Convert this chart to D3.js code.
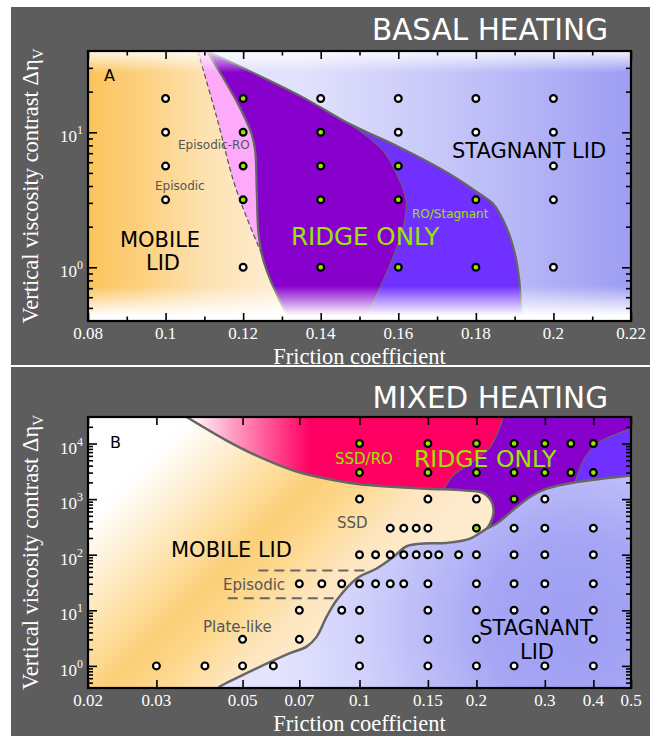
<!DOCTYPE html>
<html>
<head>
<meta charset="utf-8">
<title>Regime diagrams</title>
<script src="https://cdn.jsdelivr.net/npm/d3@7/dist/d3.min.js"></script>
<style>
  html, body { margin: 0; padding: 0; background: #fff; }
  svg { display: block; }
</style>
</head>
<body>
<svg id="fig" width="654" height="736"></svg>
<script>
// ---------------- Panel A: basal heating ----------------
const basalFrictionTicks  = [0.08, 0.10, 0.12, 0.14, 0.16, 0.18, 0.20, 0.22];
const basalFrictionLabels = ["0.08", "0.1", "0.12", "0.14", "0.16", "0.18", "0.2", "0.22"];
const basalFrictionMinor  = [0.09, 0.11, 0.13, 0.15, 0.17, 0.19, 0.21];
const basalEtaTicks       = [1, 10];
const basalEtaExponents   = ["0", "1"];

// runs that show ridge-only behaviour (green) and all other runs (white)
const basalRidgeRuns = [
  [0.12, 17.8],
  [0.12, 10], [0.14, 10],
  [0.12, 5.62], [0.14, 5.62], [0.16, 5.62],
  [0.12, 3.16], [0.14, 3.16], [0.16, 3.16], [0.18, 3.16],
  [0.14, 1], [0.16, 1], [0.18, 1]
];
const basalOtherRuns = [
  [0.10, 17.8], [0.14, 17.8], [0.16, 17.8], [0.18, 17.8], [0.20, 17.8],
  [0.10, 10], [0.16, 10], [0.18, 10], [0.20, 10],
  [0.10, 5.62], [0.20, 5.62],
  [0.10, 3.16], [0.20, 3.16],
  [0.12, 1], [0.20, 1]
];

// regime boundaries as [friction, viscosity contrast]
const basalEpisodicEdge = [[0.1083, 40], [0.1132, 12.9], [0.1175, 4.37], [0.1209, 2.34], [0.1248, 1.25]];
const basalRidgeEdge = [[0.1106, 40], [0.1158, 22.8], [0.1196, 14.4], [0.1222, 9.7], [0.1231, 7.3],
  [0.1235, 3.69], [0.1239, 1.86], [0.1248, 1.25], [0.1261, 0.94], [0.1287, 0.63], [0.1321, 0.425], [0.1355, 0.4]];
const basalStagnantEdge = [[0.1106, 40], [0.1347, 18.6], [0.1475, 11.5], [0.1604, 7.72], [0.1733, 4.9],
  [0.1811, 3.48], [0.1845, 2.94], [0.1879, 1.97], [0.1901, 1.25], [0.1912, 0.8], [0.1918, 0.42], [0.1920, 0.4]];
const basalROEdge = [[0.1500, 0.4], [0.1514, 0.425], [0.1561, 0.80], [0.1596, 1.40], [0.1613, 1.97],
  [0.1620, 3.1], [0.1604, 4.37], [0.1561, 7.3], [0.1475, 11.5]];

// ---------------- Panel B: mixed heating ----------------
const mixedFrictionTicks  = [0.02, 0.03, 0.05, 0.07, 0.1, 0.15, 0.2, 0.3, 0.4, 0.5];
const mixedFrictionLabels = ["0.02", "0.03", "0.05", "0.07", "0.1", "0.15", "0.2", "0.3", "0.4", "0.5"];
const mixedEtaTicks       = [1, 10, 100, 1000, 10000];
const mixedEtaExponents   = ["0", "1", "2", "3", "4"];

const mixedRidgeRuns = [
  [0.1, 1e4], [0.15, 1e4], [0.2, 1e4], [0.25, 1e4], [0.3, 1e4], [0.35, 1e4], [0.4, 1e4],
  [0.1, 3e3], [0.15, 3e3], [0.2, 3e3], [0.25, 3e3], [0.3, 3e3], [0.35, 3e3], [0.4, 3e3],
  [0.25, 1e3], [0.2, 300]
];
const mixedOtherRuns = [
  [0.1, 1e3], [0.15, 1e3], [0.2, 1e3], [0.3, 1e3],
  [0.12, 300], [0.13, 300], [0.14, 300], [0.15, 300], [0.25, 300], [0.3, 300], [0.4, 300],
  [0.1, 100], [0.11, 100], [0.12, 100], [0.13, 100], [0.14, 100], [0.15, 100], [0.16, 100],
  [0.18, 100], [0.2, 100], [0.25, 100], [0.3, 100], [0.4, 100],
  [0.07, 30], [0.08, 30], [0.09, 30], [0.1, 30], [0.11, 30], [0.12, 30], [0.13, 30],
  [0.15, 30], [0.2, 30], [0.25, 30], [0.3, 30], [0.4, 30],
  [0.07, 10], [0.09, 10], [0.1, 10], [0.15, 10], [0.2, 10], [0.25, 10], [0.3, 10], [0.4, 10],
  [0.05, 3], [0.07, 3], [0.1, 3], [0.15, 3], [0.2, 3], [0.4, 3],
  [0.03, 1], [0.04, 1], [0.05, 1], [0.06, 1], [0.1, 1], [0.15, 1], [0.2, 1], [0.25, 1], [0.3, 1], [0.4, 1]
];

// upper edge of the mobile-lid field (runs round the SSD lobe to the junction)
const mixedMobileEdge = [[0.0359, 3e4], [0.0455, 11300], [0.0554, 5680], [0.0676, 3280], [0.0823, 2330],
  [0.1, 1850], [0.1498, 1540], [0.185, 1436], [0.2084, 1283], [0.2191, 885], [0.2212, 548],
  [0.2169, 363], [0.2126, 295]];
// stagnant-lid edge from the bottom axis up to the right-hand frame
const mixedStagnantEdge = [[0.0433, 0.4], [0.0438, 0.43], [0.0512, 0.74], [0.0662, 1.69], [0.0731, 2.22],
  [0.0776, 3.36], [0.0823, 7.66], [0.0874, 15.3], [0.0984, 37.4], [0.1107, 56.5], [0.1222, 91],
  [0.1323, 142], [0.146, 159], [0.1676, 163], [0.1926, 195], [0.2126, 295], [0.2255, 363],
  [0.254, 719], [0.2749, 1090], [0.3035, 1540], [0.3624, 2024], [0.5, 2668]];
const mixedSSDROEdge = [[0.2346, 3e4], [0.2168, 8590], [0.1926, 4325], [0.1743, 2668], [0.165, 1500]];
const mixedROStagnantEdge = [[0.5, 18370], [0.4079, 9880], [0.3768, 4955], [0.3589, 1995]];
const mixedEpisodicUpper = [[0.0549, 52], [0.103, 52]];
const mixedEpisodicLower = [[0.0458, 16.4], [0.0858, 16.4]];

// ---------------- drawing ----------------
const SANS = "'DejaVu Sans', sans-serif";
const SERIF = "'Liberation Serif', 'Times New Roman', serif";
const GREEN = "#99e600";
const EDGE = "#666";

const svg = d3.select("#fig");
const defs = svg.append("defs");

function gradient(id, attrs, stops, type = "linearGradient") {
  const g = defs.append(type).attr("id", id).attr("gradientUnits", "userSpaceOnUse");
  Object.entries(attrs).forEach(([k, v]) => g.attr(k, v));
  stops.forEach(([o, c, op]) => g.append("stop").attr("offset", o).attr("stop-color", c)
    .attr("stop-opacity", op === undefined ? 1 : op));
  return `url(#${id})`;
}

function joinPaths(parts) {
  return parts.map((d, i) => i ? d.replace(/^M/, "L") : d).join("") + "Z";
}

function makePanel(opt) {
  const { frame, x, y } = opt;
  const g = svg.append("g");
  // grey panel card
  g.append("rect").attr("x", 11).attr("y", opt.cardTop).attr("width", 639)
    .attr("height", opt.cardHeight).attr("fill", "#5d5d5d");

  const clipId = opt.id + "-clip";
  defs.append("clipPath").attr("id", clipId).append("rect")
    .attr("x", frame.left).attr("y", frame.top)
    .attr("width", frame.right - frame.left).attr("height", frame.bottom - frame.top);
  const plot = g.append("g").attr("clip-path", `url(#${clipId})`);

  const smooth = d3.line().x(d => x(d[0])).y(d => y(d[1])).curve(d3.curveCatmullRom.alpha(0.5));
  const straight = d3.line().x(d => x(d[0])).y(d => y(d[1]));
  return { g, plot, smooth, straight };
}

function drawAxes(g, p) {
  const { frame, x, y } = p;
  const tickStyle = s => {
    s.select(".domain").remove();
    s.selectAll("line").attr("stroke", "#000").attr("stroke-width", 1.6);
  };
  const sets = [
    [d3.axisTop(x), p.xMajor, 8, `translate(0,${frame.bottom})`],
    [d3.axisTop(x), p.xMinor, 4.5, `translate(0,${frame.bottom})`],
    [d3.axisBottom(x), p.xMajor, 8, `translate(0,${frame.top})`],
    [d3.axisBottom(x), p.xMinor, 4.5, `translate(0,${frame.top})`],
    [d3.axisRight(y), p.yMajor, 9, `translate(${frame.left},0)`],
    [d3.axisRight(y), p.yMinor, 5, `translate(${frame.left},0)`],
    [d3.axisLeft(y), p.yMajor, 9, `translate(${frame.right},0)`],
    [d3.axisLeft(y), p.yMinor, 5, `translate(${frame.right},0)`]
  ];
  sets.forEach(([ax, vals, size, tr]) => {
    g.append("g").attr("transform", tr)
      .call(ax.tickValues(vals).tickSize(size).tickFormat(""))
      .call(tickStyle);
  });

  g.append("rect").attr("x", frame.left).attr("y", frame.top)
    .attr("width", frame.right - frame.left).attr("height", frame.bottom - frame.top)
    .attr("fill", "none").attr("stroke", "#000").attr("stroke-width", 2.2);

  // x tick labels
  g.append("g").selectAll("text").data(p.xMajor).join("text")
    .attr("x", d => x(d)).attr("y", frame.bottom + 18)
    .attr("text-anchor", "middle").attr("fill", "#fff")
    .attr("font-family", SERIF).attr("font-size", 17)
    .text((d, i) => p.xLabels[i]);

  // y tick labels 10^n
  const yl = g.append("g").selectAll("text").data(p.yMajor).join("text")
    .attr("x", frame.left - 5).attr("y", d => y(d) + 10)
    .attr("text-anchor", "end").attr("fill", "#fff")
    .attr("font-family", SERIF).attr("font-size", 17);
  yl.append("tspan").text("10");
  yl.append("tspan").attr("dy", -8).attr("font-size", 12).text((d, i) => p.yExp[i]);

  // axis titles
  g.append("text")
    .attr("x", (frame.left + frame.right) / 2).attr("y", frame.bottom + 43)
    .attr("text-anchor", "middle").attr("fill", "#fff")
    .attr("font-family", SERIF).attr("font-size", 22.5)
    .text("Friction coefficient");
  const yt = g.append("text")
    .attr("transform", `translate(38,${(frame.top + frame.bottom) / 2}) rotate(-90)`)
    .attr("text-anchor", "middle").attr("fill", "#fff")
    .attr("font-family", SERIF).attr("font-size", 22.5);
  yt.append("tspan").text("Vertical viscosity contrast \u0394\u03b7");
  yt.append("tspan").attr("dy", 5).attr("font-size", 15).text("V");
}

function drawRuns(g, p, ridge, other) {
  const { x, y } = p;
  const dots = g.append("g");
  dots.selectAll("circle.o").data(other).join("circle").attr("class", "o")
    .attr("cx", d => x(d[0])).attr("cy", d => y(d[1])).attr("r", 3.4)
    .attr("fill", "#fff").attr("stroke", "#000").attr("stroke-width", 2.2);
  dots.selectAll("circle.r").data(ridge).join("circle").attr("class", "r")
    .attr("cx", d => x(d[0])).attr("cy", d => y(d[1])).attr("r", 3.4)
    .attr("fill", GREEN).attr("stroke", "#000").attr("stroke-width", 2.2);
}

function label(g, txt, xx, yy, size, color, anchor = "start", family = SANS) {
  return g.append("text").attr("x", xx).attr("y", yy).attr("font-size", size)
    .attr("fill", color).attr("font-family", family).attr("text-anchor", anchor).text(txt);
}

// ===== Panel A =====
{
  const frame = { left: 88, right: 631, top: 51, bottom: 321 };
  const x = d3.scaleLinear().domain([0.08, 0.22]).range([frame.left, frame.right]);
  const y = d3.scaleLog().domain([0.4, 40]).range([frame.bottom, frame.top]);
  const p = {
    id: "basal", frame, x, y, cardTop: 7, cardHeight: 358,
    xMajor: basalFrictionTicks, xMinor: basalFrictionMinor, xLabels: basalFrictionLabels,
    yMajor: basalEtaTicks, yMinor: y.ticks().filter(v => !basalEtaTicks.includes(v) && v > 0.4 && v < 40),
    yExp: basalEtaExponents
  };
  const { g, plot, smooth, straight } = makePanel(p);

  const mobileFill = gradient("mobA", { x1: frame.left, y1: 0, x2: frame.right, y2: 0 }, [
    [0, "#fbc35a"], [0.1, "#fcd07f"], [0.22, "#fde2b2"], [0.36, "#feeed6"], [1, "#fff6ea"]]);
  const stagFill = gradient("stagA", { x1: 300, y1: 0, x2: frame.right, y2: 0 }, [
    [0, "#e2e2fd"], [0.5, "#c2c2f9"], [1, "#9d9df3"]]);
  const fadeFill = gradient("fadeA", { x1: 0, y1: frame.top, x2: 0, y2: frame.bottom }, [
    [0, "#fff", 0.85], [0.08, "#fff", 0], [0.87, "#fff", 0], [0.98, "#fff", 1], [1, "#fff", 1]]);

  const R = 0.22, T = 40, B = 0.4;
  plot.append("rect").attr("x", frame.left).attr("y", frame.top)
    .attr("width", frame.right - frame.left).attr("height", frame.bottom - frame.top)
    .attr("fill", mobileFill);
  // episodic-RO wedge
  plot.append("path").attr("fill", "#fdaafb").attr("d", joinPaths([
    smooth(basalEpisodicEdge), straight([[0.1248, 1.25], [0.14, B], [R, B], [R, T]])]));
  // ridge only
  plot.append("path").attr("fill", "#8800cc").attr("d", joinPaths([
    smooth(basalRidgeEdge), straight([[0.1355, B], [R, B], [R, T]])]));
  // RO / stagnant
  plot.append("path").attr("fill", "#7030ff").attr("d", joinPaths([
    smooth(basalROEdge), straight([[0.1475, 11.5], [0.1475, T], [R, T], [R, B]])]));
  // stagnant lid
  plot.append("path").attr("fill", stagFill).attr("d", joinPaths([
    smooth(basalStagnantEdge), straight([[0.192, B], [R, B], [R, T]])]));

  // boundaries
  plot.append("path").attr("d", smooth(basalEpisodicEdge)).attr("fill", "none")
    .attr("stroke", "#555").attr("stroke-width", 1.2).attr("stroke-dasharray", "5,3");
  plot.append("path").attr("d", smooth(basalRidgeEdge)).attr("fill", "none")
    .attr("stroke", EDGE).attr("stroke-width", 2.2);
  plot.append("path").attr("d", smooth(basalStagnantEdge)).attr("fill", "none")
    .attr("stroke", EDGE).attr("stroke-width", 2.2);
  plot.append("path").attr("d", smooth(basalROEdge)).attr("fill", "none")
    .attr("stroke", EDGE).attr("stroke-width", 1.1);

  // soft fade towards the top and bottom of the frame
  plot.append("rect").attr("x", frame.left).attr("y", frame.top)
    .attr("width", frame.right - frame.left).attr("height", frame.bottom - frame.top)
    .attr("fill", fadeFill);

  drawRuns(plot, p, basalRidgeRuns, basalOtherRuns);

  label(plot, "A", 104, 81, 16, "#000");
  label(plot, "MOBILE", 160, 247, 21, "#000", "middle");
  label(plot, "LID", 163, 270, 21, "#000", "middle");
  label(plot, "Episodic-RO", 178, 149, 12, "#555");
  label(plot, "Episodic", 155, 190, 12, "#555");
  label(plot, "RIDGE ONLY", 291, 245, 24.5, GREEN);
  label(plot, "RO/Stagnant", 412, 218, 12, GREEN);
  label(plot, "STAGNANT LID", 452, 158, 21, "#000");

  drawAxes(g, p);
  label(g, "BASAL HEATING", 608, 40, 29.5, "#fff", "end");
}

// ===== Panel B =====
{
  const frame = { left: 88, right: 631, top: 417, bottom: 688 };
  const x = d3.scaleLog().domain([0.02, 0.5]).range([frame.left, frame.right]);
  const y = d3.scaleLog().domain([0.4, 3e4]).range([frame.bottom, frame.top]);
  const p = {
    id: "mixed", frame, x, y, cardTop: 367, cardHeight: 369,
    xMajor: mixedFrictionTicks, xMinor: [], xLabels: mixedFrictionLabels,
    yMajor: mixedEtaTicks, yMinor: y.ticks().filter(v => !mixedEtaTicks.includes(v) && v > 0.4 && v < 3e4),
    yExp: mixedEtaExponents
  };
  const { g, plot, smooth, straight } = makePanel(p);

  const L = 0.02, R = 0.5, T = 3e4, B = 0.4;
  const redFill = gradient("redB", { x1: 190, y1: 0, x2: 310, y2: 0 }, [
    [0, "#ffffff"], [0.35, "#ff9fc4"], [1, "#ff0062"]]);
  const mobileFill = gradient("mobB", { x1: frame.left, y1: frame.top, x2: frame.left + 300, y2: frame.top + 300 }, [
    [0, "#ffffff"], [0.17, "#ffffff"], [0.27, "#fef1d8"], [0.38, "#fde0a4"], [0.48, "#fccf78"],
    [0.57, "#fdd88f"], [0.67, "#fde6bf"], [0.77, "#feeacd"], [1, "#feeacd"]]);
  const stagFill = gradient("stagB", { cx: 575, cy: 625, r: 300, fx: 575, fy: 625 }, [
    [0, "#9e9ef3"], [0.3, "#a6a6f5"], [0.7, "#cfcffb"], [1, "#e4e4ff"]], "radialGradient");

  plot.append("rect").attr("x", frame.left).attr("y", frame.top)
    .attr("width", frame.right - frame.left).attr("height", frame.bottom - frame.top)
    .attr("fill", redFill);
  // ridge only
  plot.append("path").attr("fill", "#8800cc").attr("d", joinPaths([
    smooth(mixedSSDROEdge), straight([[0.165, 1500], [0.165, B], [R, B], [R, T]])]));
  // RO / stagnant corner
  plot.append("path").attr("fill", "#7030ff").attr("d", joinPaths([
    smooth(mixedROStagnantEdge), straight([[0.3589, 1995], [0.3589, B], [R, B]])]));
  // mobile lid
  plot.append("path").attr("fill", mobileFill).attr("d", joinPaths([
    smooth(mixedMobileEdge), straight([[0.2126, 295], [0.2126, B], [L, B], [L, T]])]));
  // stagnant lid
  plot.append("path").attr("fill", stagFill).attr("d", joinPaths([
    smooth(mixedStagnantEdge), straight([[R, 2668], [R, B]])]));

  plot.append("path").attr("d", smooth(mixedSSDROEdge)).attr("fill", "none")
    .attr("stroke", EDGE).attr("stroke-width", 1.1);
  plot.append("path").attr("d", smooth(mixedROStagnantEdge)).attr("fill", "none")
    .attr("stroke", EDGE).attr("stroke-width", 1.1);
  plot.append("path").attr("d", smooth(mixedMobileEdge)).attr("fill", "none")
    .attr("stroke", EDGE).attr("stroke-width", 2.5);
  plot.append("path").attr("d", smooth(mixedStagnantEdge)).attr("fill", "none")
    .attr("stroke", EDGE).attr("stroke-width", 2.5);
  [mixedEpisodicUpper, mixedEpisodicLower].forEach(seg => {
    plot.append("path").attr("d", straight(seg)).attr("fill", "none")
      .attr("stroke", "#666").attr("stroke-width", 2).attr("stroke-dasharray", "10,6");
  });

  drawRuns(plot, p, mixedRidgeRuns, mixedOtherRuns);

  label(plot, "B", 110, 448, 16, "#000");
  label(plot, "SSD/RO", 335, 464, 15, GREEN);
  label(plot, "RIDGE ONLY", 414, 467, 23.5, GREEN);
  label(plot, "SSD", 337, 528, 15, "#555");
  label(plot, "MOBILE LID", 171, 557, 21, "#000");
  label(plot, "Episodic", 223, 590, 15, "#555");
  label(plot, "Plate-like", 203, 632, 15, "#555");
  label(plot, "STAGNANT", 536, 635, 21, "#000", "middle");
  label(plot, "LID", 537, 659, 21, "#000", "middle");

  drawAxes(g, p);
  label(g, "MIXED HEATING", 608, 408, 29.5, "#fff", "end");
}
</script>
</body>
</html>
